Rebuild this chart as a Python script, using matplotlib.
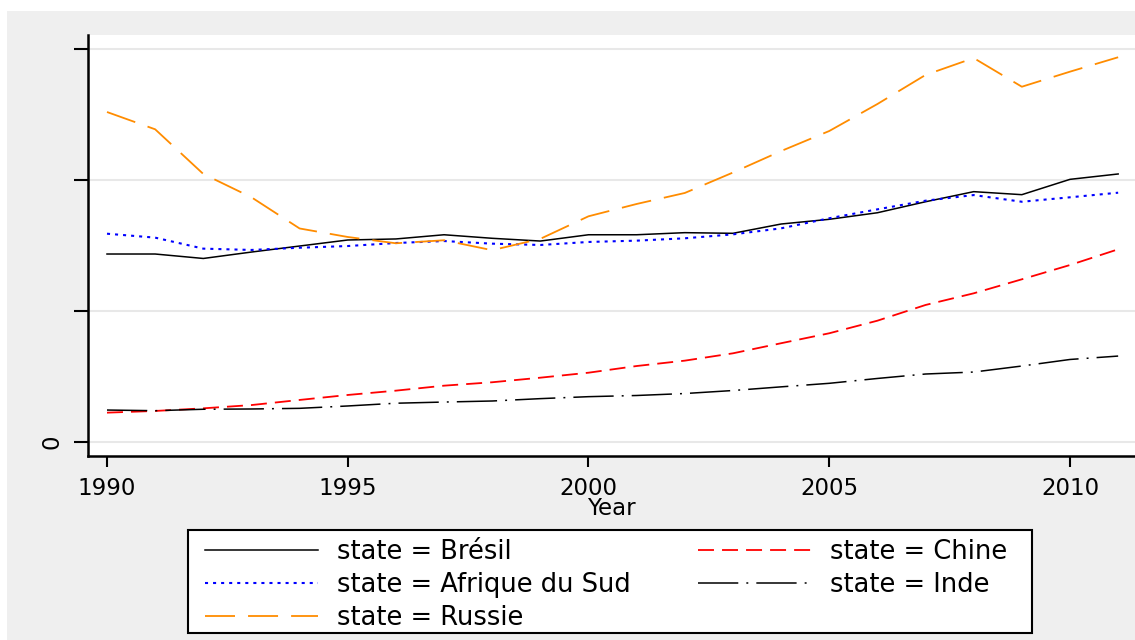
import matplotlib
matplotlib.use("Agg")
import matplotlib.pyplot as plt
from matplotlib.patches import Rectangle

plt.rcParams['font.family'] = ['DejaVu Sans']
plt.rcParams['lines.scale_dashes'] = False

years = list(range(1990, 2012))
bresil = [1.435, 1.435, 1.401, 1.450, 1.496, 1.542, 1.550, 1.582, 1.555, 1.534, 1.582,
          1.582, 1.598, 1.593, 1.664, 1.700, 1.750, 1.834, 1.911, 1.888, 2.005, 2.046]
afrique = [1.590, 1.560, 1.476, 1.466, 1.483, 1.496, 1.519, 1.534, 1.514, 1.504, 1.527,
           1.537, 1.555, 1.585, 1.631, 1.708, 1.776, 1.842, 1.885, 1.834, 1.868, 1.903]
russie = [2.519, 2.387, 2.046, 1.868, 1.630, 1.565, 1.517, 1.540, 1.464, 1.551, 1.723,
          1.817, 1.901, 2.057, 2.221, 2.374, 2.580, 2.802, 2.931, 2.712, 2.827, 2.937]
chine = [0.224, 0.237, 0.257, 0.282, 0.321, 0.359, 0.392, 0.430, 0.456, 0.491, 0.529,
         0.580, 0.621, 0.677, 0.754, 0.830, 0.926, 1.046, 1.135, 1.242, 1.351, 1.471]
inde = [0.244, 0.239, 0.250, 0.252, 0.257, 0.275, 0.296, 0.305, 0.313, 0.331, 0.346,
        0.355, 0.370, 0.393, 0.421, 0.448, 0.485, 0.519, 0.534, 0.580, 0.630, 0.656]

labels = ["state = Brésil", "state = Afrique du Sud", "state = Russie",
          "state = Chine", "state = Inde"]
xticks = [1990, 1995, 2000, 2005, 2010]
yticks = [0, 1, 2, 3]
ytick_labels = ["0", "", "", ""]

W, H = 1135, 640
fig = plt.figure(figsize=(W / 100, H / 100), dpi=100)
fig.patch.set_facecolor('white')
fig.patches.append(Rectangle((7 / W, 0), 1 - 7 / W, 1 - 11 / H, transform=fig.transFigure,
                             facecolor='#efefef', edgecolor='none', zorder=-10))
# legend frame
fig.patches.append(Rectangle((188 / W, 1 - 633 / H), (1032 - 188) / W, (633 - 530) / H,
                             transform=fig.transFigure, facecolor='white',
                             edgecolor='black', lw=1.5, zorder=-5))

ax = fig.add_axes([88 / W, 1 - 456 / H, (W - 88) / W, (456 - 35) / H])
ax.set_facecolor('white')

lw = 1.1
h1, = ax.plot(years, bresil, color='black', lw=lw)
h2, = ax.plot(years, afrique, color='#0000ff', lw=lw + 0.4, dashes=(2.2, 3.6))
h3, = ax.plot(years, russie, color='#ff8c00', lw=lw + 0.2, dashes=(21.6, 9.4))
h4, = ax.plot(years, chine, color='#ff0000', lw=lw + 0.2, dashes=(11.5, 5.8))
h5, = ax.plot(years, inde, color='black', lw=lw, dashes=(29, 5.8, 1.4, 5.8))

ax.set_xlim(1990 - 19 / 48.15, 1990 + (1135 - 107) / 48.15)
ax.set_ylim(-14 / 131, (442 - 35) / 131)

ax.set_yticks(yticks)
ax.set_yticklabels(ytick_labels, rotation=90, va='center', fontsize=16.5)
ax.set_xticks(xticks)
ax.set_xticklabels([str(x) for x in xticks], fontsize=16.5)
ax.tick_params(axis='y', length=10, width=1.5, pad=8)
ax.tick_params(axis='x', length=8, width=1.5, pad=7)
ax.grid(axis='y', color='#e8e8e8', lw=1.5)
ax.set_axisbelow(True)
for s in ['top', 'right']:
    ax.spines[s].set_visible(False)
for s in ['left', 'bottom']:
    ax.spines[s].set_linewidth(1.8)
ax.set_xlabel("Year", fontsize=16.5, labelpad=-2)

fs = 18.5
leg = fig.legend([h1, h2, h3, h4, h5], labels, ncol=2, loc='upper left',
                 bbox_to_anchor=(205 / W, 1 - 539 / H), fontsize=fs,
                 frameon=False, handlelength=4.4, handletextpad=0.75, columnspacing=2.6,
                 labelspacing=0.27, borderpad=0.0, borderaxespad=0)

fig.savefig("out.png", dpi=100, facecolor=fig.get_facecolor())
